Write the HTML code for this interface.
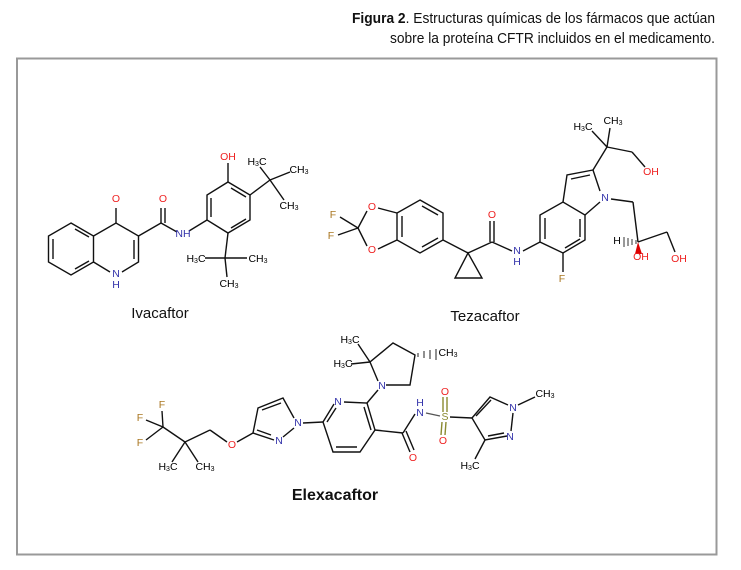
<!DOCTYPE html>
<html><head><meta charset="utf-8"><style>
html,body{margin:0;padding:0;background:#fff;}
svg{display:block;}
.b{stroke:#111;stroke-width:1.4;fill:none;}
text{font-family:"Liberation Sans",sans-serif;}
.a{font-size:10.5px;text-anchor:middle;dominant-baseline:central;}
</style></head><body>
<svg width="741" height="570" viewBox="0 0 741 570" xmlns="http://www.w3.org/2000/svg">
<text x="715" y="23" text-anchor="end" font-size="15" textLength="363" lengthAdjust="spacingAndGlyphs" fill="#111" font-family="Liberation Sans Narrow, Liberation Sans, sans-serif"><tspan font-weight="bold">Figura 2</tspan>. Estructuras químicas de los fármacos que actúan</text>
<text x="715" y="43" text-anchor="end" font-size="15" textLength="325" lengthAdjust="spacingAndGlyphs" fill="#111" font-family="Liberation Sans Narrow, Liberation Sans, sans-serif">sobre la proteína CFTR incluidos en el medicamento.</text>
<rect x="17" y="58.5" width="699.5" height="496" fill="none" stroke="#999" stroke-width="2"/>

<!-- Ivacaftor -->
<g class="b">
<polygon points="71,223 93.5,236 93.5,262 71,275 48.5,262 48.5,236"/>
<line x1="75" y1="229" x2="89" y2="237"/><line x1="53" y1="239" x2="53" y2="259"/><line x1="75" y1="269" x2="89" y2="261"/>
<polyline points="93.5,236 116,223 138.5,236 138.5,262 122,272"/>
<polyline points="110,272 93.5,262"/>
<line x1="134" y1="240" x2="134" y2="259"/>
<line x1="116" y1="223" x2="116" y2="208"/>
<line x1="138.5" y1="236" x2="161" y2="223"/>
<line x1="161" y1="223" x2="161" y2="208"/><line x1="165" y1="223" x2="165" y2="208"/>
<line x1="161" y1="223" x2="177" y2="232"/>
<line x1="189" y1="231" x2="207" y2="220"/>
<polygon points="207,220 207,195 228,182 250,195 250,220 228,233"/>
<line x1="211" y1="217" x2="211" y2="198"/><line x1="231" y1="188" x2="246" y2="197"/><line x1="231" y1="228" x2="246" y2="219"/>
<line x1="228" y1="182" x2="228" y2="163"/>
<line x1="250" y1="195" x2="270" y2="180"/>
<line x1="270" y1="180" x2="260" y2="167"/><line x1="270" y1="180" x2="290" y2="172"/><line x1="270" y1="180" x2="284" y2="200"/>
<line x1="228" y1="233" x2="225" y2="258"/>
<line x1="225" y1="258" x2="205" y2="258"/><line x1="225" y1="258" x2="247" y2="258"/><line x1="225" y1="258" x2="227" y2="277"/>
</g>
<g class="a">
<text x="116" y="199" fill="#e22">O</text>
<text x="163" y="199" fill="#e22">O</text>
<text x="116" y="274" fill="#33a">N</text>
<text x="116" y="285" fill="#33a">H</text>
<text x="183" y="234" fill="#33a">NH</text>
<text x="228" y="157" fill="#e22">OH</text>
<text x="257" y="162">H<tspan font-size="7" dy="2">3</tspan><tspan dy="-2">C</tspan></text>
<text x="299" y="170">CH<tspan font-size="7" dy="2">3</tspan></text>
<text x="289" y="206">CH<tspan font-size="7" dy="2">3</tspan></text>
<text x="196" y="259">H<tspan font-size="7" dy="2">3</tspan><tspan dy="-2">C</tspan></text>
<text x="258" y="259">CH<tspan font-size="7" dy="2">3</tspan></text>
<text x="229" y="284">CH<tspan font-size="7" dy="2">3</tspan></text>
</g>
<text x="160" y="318" font-size="15" text-anchor="middle" fill="#111">Ivacaftor</text>

<!-- Tezacaftor -->
<g class="b">
<polygon points="420,200 443,213 443,240 420,253 397,240 397,213"/>
<line x1="422" y1="206" x2="438" y2="215"/><line x1="402" y1="216" x2="402" y2="237"/><line x1="422" y1="247" x2="438" y2="238"/>
<line x1="397" y1="213" x2="378" y2="208"/><line x1="397" y1="240" x2="378" y2="249"/>
<line x1="367" y1="211" x2="358" y2="228"/><line x1="367" y1="246" x2="358" y2="228"/>
<line x1="358" y1="228" x2="340" y2="217"/><line x1="358" y1="228" x2="338" y2="235"/>
<line x1="443" y1="240" x2="468" y2="253"/>
<polygon points="468,253 455,278 482,278"/>
<line x1="468" y1="253" x2="492" y2="242"/>
<line x1="490" y1="242" x2="490" y2="221"/><line x1="494" y1="242" x2="494" y2="221"/>
<line x1="492" y1="242" x2="512" y2="251"/>
<line x1="523" y1="251" x2="540" y2="242"/>
<polygon points="540,242 540,215 563,202 585,215 585,240 563,253"/>
<line x1="545" y1="239" x2="545" y2="218"/><line x1="580" y1="219" x2="580" y2="237"/><line x1="565" y1="248" x2="580" y2="239"/>
<line x1="563" y1="253" x2="563" y2="272"/>
<polyline points="563,202 567,175 593,170 600,191"/>
<line x1="571" y1="179" x2="590" y2="175"/>
<line x1="600" y1="202" x2="585" y2="215"/>
<line x1="593" y1="170" x2="607" y2="147"/>
<line x1="607" y1="147" x2="592" y2="131"/><line x1="607" y1="147" x2="610" y2="128"/>
<line x1="607" y1="147" x2="632" y2="152"/><line x1="632" y1="152" x2="645" y2="167"/>
<line x1="611" y1="199" x2="633" y2="202"/><line x1="633" y1="202" x2="638" y2="242"/>
<line x1="638" y1="242" x2="667" y2="232"/><line x1="667" y1="232" x2="675" y2="252"/>
</g>
<polygon points="638,242 635,254 642,254" fill="#d00"/>
<g stroke="#333" stroke-width="1"><line x1="636" y1="240" x2="636" y2="244"/><line x1="632" y1="239" x2="632" y2="245"/><line x1="628" y1="238" x2="628" y2="246"/><line x1="624" y1="237" x2="624" y2="247"/></g>
<g class="a">
<text x="333" y="215" fill="#a72">F</text><text x="331" y="236" fill="#a72">F</text>
<text x="372" y="207" fill="#e22">O</text><text x="372" y="250" fill="#e22">O</text>
<text x="492" y="215" fill="#e22">O</text>
<text x="517" y="251" fill="#33a">N</text><text x="517" y="262" fill="#33a">H</text>
<text x="562" y="279" fill="#a72">F</text>
<text x="605" y="198" fill="#33a">N</text>
<text x="583" y="127">H<tspan font-size="7" dy="2">3</tspan><tspan dy="-2">C</tspan></text>
<text x="613" y="121">CH<tspan font-size="7" dy="2">3</tspan></text>
<text x="651" y="172" fill="#e22">OH</text>
<text x="617" y="241">H</text>
<text x="641" y="257" fill="#e22">OH</text>
<text x="679" y="259" fill="#e22">OH</text>
</g>
<text x="485" y="321" font-size="15" text-anchor="middle" fill="#111">Tezacaftor</text>

<!-- Elexacaftor -->
<g class="b">
<line x1="163" y1="427" x2="162" y2="411"/><line x1="163" y1="427" x2="146" y2="420"/><line x1="163" y1="427" x2="146" y2="440"/>
<line x1="163" y1="427" x2="185" y2="442"/>
<line x1="185" y1="442" x2="172" y2="462"/><line x1="185" y1="442" x2="198" y2="462"/>
<line x1="185" y1="442" x2="210" y2="430"/><line x1="210" y1="430" x2="227" y2="442"/>
<line x1="237" y1="442" x2="253" y2="433"/>
<polyline points="274,440 253,433 258,408 283,398 294,418"/>
<line x1="257" y1="430" x2="271" y2="435"/><line x1="262" y1="410" x2="281" y2="403"/>
<line x1="283" y1="437" x2="294" y2="428"/>
<line x1="303" y1="423" x2="323" y2="422"/>
<polyline points="334,404 323,422 333,452 360,452 375,430 367,403 344,402"/>
<line x1="336" y1="447" x2="357" y2="447"/><line x1="371" y1="430" x2="364" y2="407"/><line x1="327" y1="422" x2="336" y2="408"/>
<line x1="367" y1="403" x2="378" y2="390"/>
<polyline points="386,385 410,385 415,355 393,343 370,362 378,381"/>
<line x1="370" y1="362" x2="358" y2="344"/><line x1="370" y1="362" x2="351" y2="364"/>
<line x1="375" y1="430" x2="403" y2="433"/>
<line x1="402" y1="433" x2="410" y2="452"/><line x1="406" y1="431" x2="414" y2="450"/>
<line x1="403" y1="433" x2="415" y2="414"/>
<line x1="426" y1="413" x2="440" y2="416" stroke="#555"/>
<line x1="443" y1="412" x2="443" y2="397" stroke="#8a8a30"/><line x1="447" y1="412" x2="447" y2="397" stroke="#8a8a30"/>
<line x1="442" y1="422" x2="441" y2="435" stroke="#8a8a30"/><line x1="446" y1="422" x2="445" y2="435" stroke="#8a8a30"/>
<line x1="450" y1="417" x2="472" y2="418"/>
<polyline points="507,436 485,440 472,418 490,397 508,405"/>
<line x1="476" y1="416" x2="491" y2="400"/><line x1="488" y1="436" x2="504" y2="433"/>
<line x1="513" y1="413" x2="511" y2="431"/>
<line x1="518" y1="405" x2="535" y2="397"/>
<line x1="485" y1="440" x2="475" y2="459"/>
</g>
<g stroke="#222" stroke-width="1"><line x1="418" y1="353" x2="418" y2="357"/><line x1="424" y1="351" x2="424" y2="358"/><line x1="430" y1="350" x2="430" y2="359"/><line x1="436" y1="349" x2="436" y2="360"/></g>
<g class="a">
<text x="162" y="405" fill="#a72">F</text><text x="140" y="418" fill="#a72">F</text><text x="140" y="443" fill="#a72">F</text>
<text x="168" y="467">H<tspan font-size="7" dy="2">3</tspan><tspan dy="-2">C</tspan></text>
<text x="205" y="467">CH<tspan font-size="7" dy="2">3</tspan></text>
<text x="232" y="445" fill="#e22">O</text>
<text x="279" y="441" fill="#33a">N</text>
<text x="298" y="423" fill="#33a">N</text>
<text x="338" y="402" fill="#33a">N</text>
<text x="382" y="386" fill="#33a">N</text>
<text x="350" y="340">H<tspan font-size="7" dy="2">3</tspan><tspan dy="-2">C</tspan></text>
<text x="343" y="364">H<tspan font-size="7" dy="2">3</tspan><tspan dy="-2">C</tspan></text>
<text x="448" y="353">CH<tspan font-size="7" dy="2">3</tspan></text>
<text x="413" y="458" fill="#e22">O</text>
<text x="420" y="403" fill="#33a">H</text><text x="420" y="413" fill="#33a">N</text>
<text x="445" y="417" fill="#8a8a30">S</text>
<text x="445" y="392" fill="#e22">O</text><text x="443" y="441" fill="#e22">O</text>
<text x="513" y="408" fill="#33a">N</text><text x="510" y="437" fill="#33a">N</text>
<text x="545" y="394">CH<tspan font-size="7" dy="2">3</tspan></text>
<text x="470" y="466">H<tspan font-size="7" dy="2">3</tspan><tspan dy="-2">C</tspan></text>
</g>
<text x="335" y="500" font-size="16" font-weight="bold" text-anchor="middle" fill="#111">Elexacaftor</text>
</svg>
</body></html>
